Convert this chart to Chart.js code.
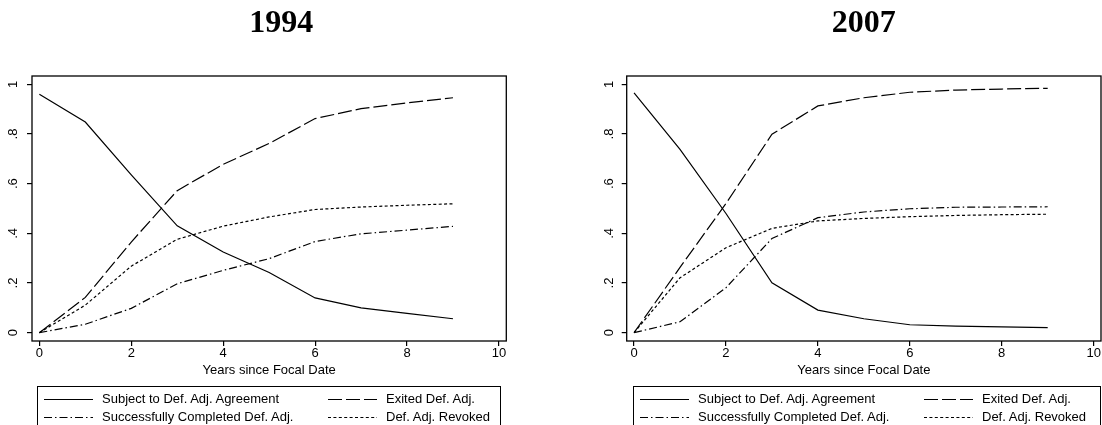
<!DOCTYPE html>
<html>
<head>
<meta charset="utf-8">
<script src="https://cdn.jsdelivr.net/npm/chart.js@4.4.0/dist/chart.umd.min.js"></script>
<style>
    html, body { margin: 0; padding: 0; background: #fff; width: 1102px; height: 425px; overflow: hidden; }
    .panel { position: absolute; top: 0; width: 551px; height: 425px; }
    .panel canvas { position: absolute; left: 0; top: 0; }
    .legend { position: absolute; top: 386px; height: 60px; border: 1px solid #000; box-sizing: border-box;
              font: 13px "Liberation Sans", Arial, sans-serif; color: #000; }
    .legend .item { position: absolute; height: 18px; line-height: 18px; white-space: nowrap; }
    .legend svg { position: absolute; left: 0; top: 0; }
    .legend span { position: absolute; left: 58px; top: 0; }
</style>
</head>
<body>
<div class="panel" style="left:0px">
    <canvas id="chart1994" width="551" height="425"></canvas>
    <div class="legend" id="legend1994" style="left:37px; width:464px"></div>
</div>
<div class="panel" style="left:551px">
    <canvas id="chart2007" width="551" height="425"></canvas>
    <div class="legend" id="legend2007" style="left:82px; width:468px"></div>
</div>
<script>
const years = [0, 1, 2, 3, 4, 5, 6, 7, 8, 9];
const xTicks = [0, 2, 4, 6, 8, 10];
const yTicks = [0, 0.2, 0.4, 0.6, 0.8, 1];
const yTickLabels = ['0', '.2', '.4', '.6', '.8', '1'];
const seriesNames = [
    'Subject to Def. Adj. Agreement',
    'Exited Def. Adj.',
    'Successfully Completed Def. Adj.',
    'Def. Adj. Revoked'
];

// 1994
const subject1994   = [0.96, 0.848, 0.635, 0.43, 0.325, 0.242, 0.14, 0.10, 0.078, 0.056];
const exited1994    = [0, 0.142, 0.365, 0.572, 0.678, 0.762, 0.862, 0.902, 0.925, 0.946];
const completed1994 = [0, 0.034, 0.098, 0.197, 0.251, 0.298, 0.367, 0.398, 0.413, 0.428];
const revoked1994   = [0, 0.111, 0.268, 0.376, 0.429, 0.466, 0.496, 0.506, 0.513, 0.519];

// 2007
const subject2007   = [0.966, 0.738, 0.48, 0.201, 0.091, 0.056, 0.032, 0.026, 0.023, 0.02];
const exited2007    = [0, 0.263, 0.52, 0.799, 0.913, 0.946, 0.968, 0.977, 0.981, 0.984];
const completed2007 = [0, 0.044, 0.181, 0.379, 0.463, 0.486, 0.499, 0.505, 0.506, 0.507];
const revoked2007   = [0, 0.221, 0.342, 0.42, 0.45, 0.46, 0.467, 0.472, 0.475, 0.477];

const dashes = [[], [14, 4], [8, 3, 1.5, 3], [3, 2.4]];
const textFont = { family: '"Liberation Sans", Arial, sans-serif', size: 13 };

// box round the plot region
const frame = {
    id: 'frame',
    afterDatasetsDraw(chart) {
        const a = chart.chartArea;
        const ctx = chart.ctx;
        ctx.save();
        ctx.strokeStyle = '#000';
        ctx.lineWidth = 1.3;
        ctx.strokeRect(a.left, a.top, a.right - a.left, a.bottom - a.top);
        ctx.restore();
    }
};

// title centred over the plot region (plus a nudge), not the canvas
const centreTitle = {
    id: 'centreTitle',
    afterLayout(chart, args, opts) {
        const t = chart.titleBlock;
        t.left = chart.chartArea.left + 2 * (opts.shift || 0);
        t.right = chart.chartArea.right;
        t.width = t.right - t.left;
    }
};

// two-column legend in a box, as html
const htmlLegend = {
    id: 'htmlLegend',
    afterUpdate(chart, args, opts) {
        const box = document.getElementById(opts.containerID);
        box.innerHTML = '';
        chart.data.datasets.forEach((ds, i) => {
            const item = document.createElement('div');
            item.className = 'item';
            item.style.left = (i % 2 ? 290 : 6) + 'px';
            item.style.top = (i < 2 ? 3 : 21) + 'px';
            item.innerHTML =
                '<svg width="49" height="18"><line x1="0" y1="9.5" x2="49" y2="9.5" stroke="#000" stroke-width="1.2"' +
                (ds.borderDash.length ? ' stroke-dasharray="' + ds.borderDash.join(' ') + '"' : '') +
                '/></svg><span>' + ds.label + '</span>';
            box.appendChild(item);
        });
    }
};

function makeChart(canvasId, legendId, title, series, yWidth, yPad, padRight, titleShift) {
    new Chart(
        document.getElementById(canvasId).getContext('2d'),
        {
            type: 'line',
            data: {
                labels: years,
                datasets: series.map((values, i) => ({
                    label: seriesNames[i],
                    data: years.map((x, j) => ({ x: x, y: values[j] })),
                    borderColor: '#000',
                    borderWidth: 1.2,
                    borderDash: dashes[i],
                    pointRadius: 0,
                    tension: 0,
                    fill: false
                }))
            },
            options: {
                responsive: false,
                animation: false,
                devicePixelRatio: 1,
                layout: { padding: { left: 0, right: padRight, top: 0, bottom: 47 } },
                scales: {
                    x: {
                        type: 'linear',
                        min: -0.16,
                        max: 10.16,
                        afterBuildTicks: s => { s.ticks = xTicks.map(v => ({ value: v })); },
                        afterFit: s => { s.height = 37; },
                        grid: { drawOnChartArea: false, tickLength: 5, color: '#000', lineWidth: 1.2 },
                        border: { display: false },
                        ticks: { padding: 0, maxRotation: 0, autoSkip: false, color: '#000', font: textFont },
                        title: { display: true, text: 'Years since Focal Date', color: '#000', font: textFont, padding: 0 }
                    },
                    y: {
                        type: 'linear',
                        min: -0.0335,
                        max: 1.0335,
                        afterBuildTicks: s => { s.ticks = yTicks.map(v => ({ value: v })); },
                        afterFit: s => { s.width = yWidth; },
                        grid: { drawOnChartArea: false, tickLength: 5, color: '#000', lineWidth: 1.2 },
                        border: { display: false },
                        ticks: {
                            padding: yPad,
                            minRotation: 90,
                            maxRotation: 90,
                            crossAlign: 'center',
                            autoSkip: false,
                            color: '#000',
                            font: textFont,
                            callback: (v, i) => yTickLabels[i]
                        }
                    }
                },
                plugins: {
                    legend: { display: false },
                    tooltip: { enabled: false },
                    title: {
                        display: true,
                        text: title,
                        color: '#000',
                        font: { family: '"Liberation Serif", "Times New Roman", serif', size: 32, weight: 'bold' },
                        padding: { top: 5, bottom: 32.6 }
                    },
                    centreTitle: { shift: titleShift },
                    htmlLegend: { containerID: legendId }
                }
            },
            plugins: [frame, centreTitle, htmlLegend]
        }
    );
}

makeChart('chart1994', 'legend1994', '1994',
    [subject1994, exited1994, completed1994, revoked1994], 32, 8, 44.7, 12);
makeChart('chart2007', 'legend2007', '2007',
    [subject2007, exited2007, completed2007, revoked2007], 75.7, 7, 1, 0);
</script>
</body>
</html>
